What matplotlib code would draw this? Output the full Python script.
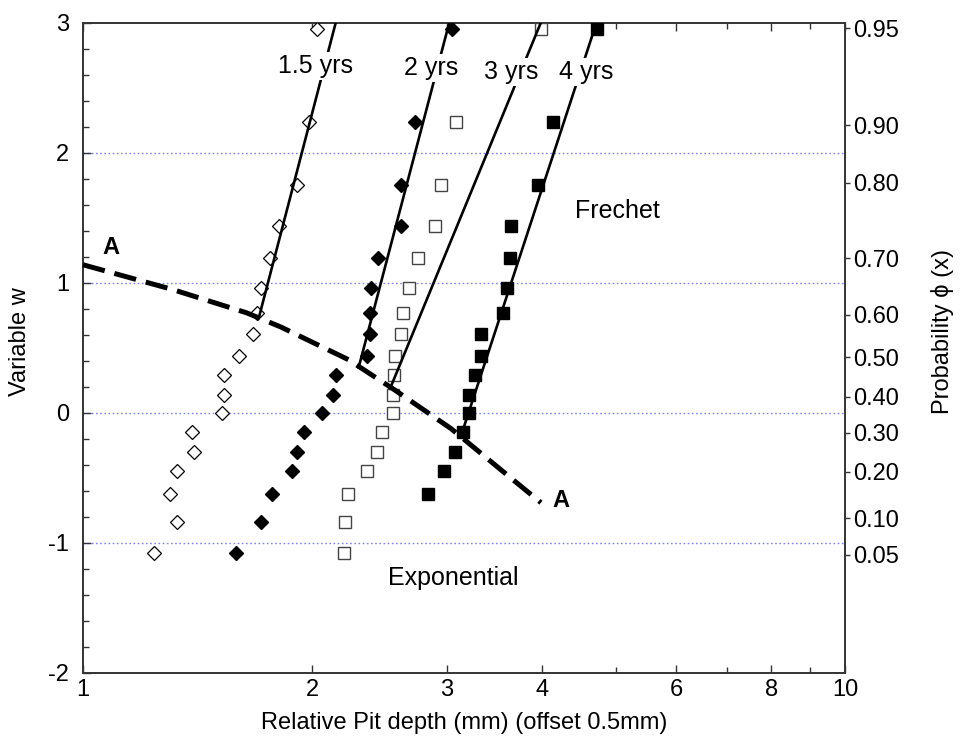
"""Gumbel plot of relative pit depth vs reduced variate w, four exposure times."""
import matplotlib
matplotlib.use("Agg")
import matplotlib.pyplot as plt
from matplotlib.ticker import FixedLocator, NullFormatter

plt.rcParams["font.family"] = ["Liberation Sans", "DejaVu Sans"]
plt.rcParams["axes.unicode_minus"] = False

# reduced variate levels (plotting positions)
w_levels = [2.95, 2.24, 1.75, 1.44, 1.19, 0.96, 0.77, 0.61, 0.44, 0.29,
            0.14, 0.0, -0.15, -0.30, -0.45, -0.62, -0.84, -1.08]

# pit depths (mm, offset 0.5 mm) per exposure
depth_15 = [2.03, 1.98, 1.91, 1.81, 1.76, 1.71, 1.69, 1.67, 1.60, 1.53,
            1.53, 1.52, 1.39, 1.40, 1.33, 1.30, 1.33, 1.24]
depth_2 = [3.05, 2.73, 2.61, 2.61, 2.44, 2.39, 2.38, 2.38, 2.36, 2.15,
           2.13, 2.06, 1.95, 1.91, 1.88, 1.77, 1.71, 1.59]
depth_3 = [3.99, 3.09, 2.95, 2.90, 2.75, 2.68, 2.63, 2.61, 2.57, 2.56,
           2.55, 2.55, 2.47, 2.43, 2.36, 2.23, 2.21, 2.20]
depth_4 = [4.72, 4.14, 3.96, 3.64, 3.63, 3.60, 3.56, 3.33, 3.33, 3.27,
           3.21, 3.21, 3.15, 3.08, 2.98, 2.84]

# fitted Frechet lines: (x_bottom, x_top), (w_bottom, w_top)
fit_15 = ([1.705, 2.15], [0.755, 3.02])
fit_2 = ([2.30, 3.03], [0.35, 3.02])
fit_3 = ([2.53, 4.00], [0.19, 3.02])
fit_4 = ([3.14, 4.73], [-0.16, 3.02])
fit_labels = ["1.5 yrs", "2 yrs", "3 yrs", "4 yrs"]
label_pos = [(2.016, 2.67), (2.862, 2.65), (3.645, 2.62), (4.57, 2.62)]

# boundary curve A-A
curve_x = [1.0, 1.31, 1.64, 1.82, 2.23, 2.56, 3.04, 3.54, 3.99]
curve_w = [1.14, 0.95, 0.77, 0.66, 0.41, 0.18, -0.12, -0.44, -0.69]

# right-hand probability axis
prob_pos = [2.96, 2.215, 1.77, 1.19, 0.754, 0.43, 0.123, -0.154, -0.454, -0.81, -1.09]
prob_labels = ["0.95", "0.90", "0.80", "0.70", "0.60", "0.50", "0.40",
               "0.30", "0.20", "0.10", "0.05"]

fig = plt.figure(figsize=(9.6, 7.53), dpi=100)
ax = fig.add_axes([0.0865, 0.1063, 0.7937, 0.8632])
ax.set_xscale("log")
ax.set_xlim(1, 10)
ax.set_ylim(-2, 3)

for gy in [2, 1, 0, -1]:
    ax.axhline(gy, color="#8080ff", lw=1.0, ls=(0, (1.2, 1.8)), zorder=0)

ax.plot(depth_15, w_levels[:len(depth_15)], ls="none", marker="D", ms=7,
        mfc="white", mec="black", mew=0.9, zorder=3)
ax.plot(depth_2, w_levels[:len(depth_2)], ls="none", marker="D", ms=7,
        mfc="black", mec="black", zorder=3)
ax.plot(depth_3, w_levels[:len(depth_3)], ls="none", marker="s", ms=8.5,
        mfc="white", mec="#444444", mew=1.0, zorder=3)
ax.plot(depth_4, w_levels[:len(depth_4)], ls="none", marker="s", ms=9,
        mfc="black", mec="black", zorder=3)

for fx, fw in [fit_15, fit_2, fit_3, fit_4]:
    ax.plot(fx, fw, color="black", lw=1.9, zorder=4)

ax.plot(curve_x, curve_w, color="black", lw=3.6, ls=(0, (4.5, 2)), zorder=5,
        solid_capstyle="butt", clip_on=False)

for lab, (lx, ly) in zip(fit_labels, label_pos):
    ax.text(lx, ly, lab, fontsize=18, ha="center", va="center", zorder=6,
            bbox=dict(fc="white", ec="none", pad=1.5))

ax.text(5.03, 1.55, "Frechet", fontsize=18, ha="center", va="center")
ax.text(3.06, -1.27, "Exponential", fontsize=18, ha="center", va="center")
ax.text(1.088, 1.27, "A", fontsize=17, fontweight="bold", ha="center", va="center")
ax.text(4.24, -0.67, "A", fontsize=17, fontweight="bold", ha="center", va="center")

ax.xaxis.set_major_locator(FixedLocator([1, 2, 3, 4, 6, 8, 10]))
ax.xaxis.set_minor_locator(FixedLocator([5, 7, 9]))
ax.set_xticklabels(["1", "2", "3", "4", "6", "8", "10"])
ax.xaxis.set_minor_formatter(NullFormatter())
ax.yaxis.set_major_locator(FixedLocator([-2, -1, 0, 1, 2, 3]))
ax.yaxis.set_minor_locator(FixedLocator([-1.8, -1.6, -1.4, -1.2, -0.8, -0.6, -0.4, -0.2,
                                         0.2, 0.4, 0.6, 0.8, 1.2, 1.4, 1.6, 1.8,
                                         2.2, 2.4, 2.6, 2.8]))
ax.tick_params(which="both", direction="in", top=True, right=True,
               labelsize=17, width=1.0, color="#333333")
ax.tick_params(which="major", length=5.5)
ax.tick_params(which="minor", length=4.5)
ax.tick_params(axis="y", pad=10)
ax.tick_params(axis="x", pad=4)
for sp in ax.spines.values():
    sp.set_linewidth(1.4)
    sp.set_color("#333333")

ax.set_xlabel("Relative Pit depth (mm) (offset 0.5mm)", fontsize=17, labelpad=8)
ax.set_ylabel("Variable w", fontsize=17)
ax.yaxis.set_label_coords(-0.068, 0.509)

ax2 = ax.twinx()
ax2.set_ylim(-2, 3)
ax2.set_yticks(prob_pos)
ax2.set_yticklabels(prob_labels)
ax2.tick_params(axis="y", direction="out", length=3.5, width=1.0, labelsize=17,
                pad=2, color="#333333")
for sp in ax2.spines.values():
    sp.set_visible(False)
ax2.set_ylabel("Probability \u03d5 (x)", fontsize=17)
ax2.yaxis.set_label_coords(1.113, 0.525)

fig.savefig("out.png", dpi=100)
